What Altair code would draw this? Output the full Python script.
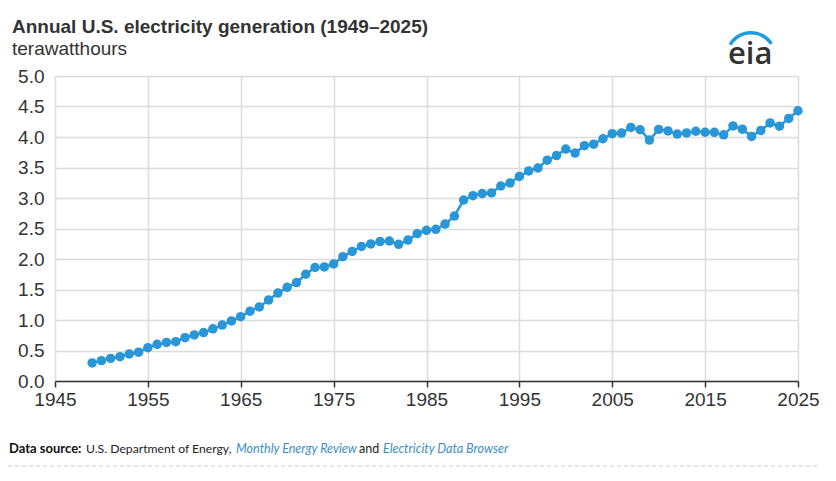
import altair as alt
import pandas as pd

years = list(range(1949, 2026))
generation = [
    0.296, 0.334, 0.371, 0.399, 0.443, 0.472, 0.547, 0.601, 0.632, 0.645,
    0.710, 0.756, 0.794, 0.856, 0.917, 0.984, 1.055, 1.144, 1.214, 1.329,
    1.442, 1.535, 1.613, 1.750, 1.861, 1.870, 1.918, 2.038, 2.124, 2.206,
    2.247, 2.286, 2.295, 2.241, 2.310, 2.416, 2.470, 2.487, 2.572, 2.704,
    2.967, 3.038, 3.073, 3.084, 3.197, 3.247, 3.353, 3.444, 3.492, 3.620,
    3.695, 3.802, 3.737, 3.858, 3.883, 3.971, 4.055, 4.065, 4.157, 4.119,
    3.950, 4.125, 4.100, 4.048, 4.066, 4.094, 4.078, 4.077, 4.035, 4.181,
    4.128, 4.010, 4.108, 4.230, 4.178, 4.305, 4.430,
]

x_ticks = [1945, 1955, 1965, 1975, 1985, 1995, 2005, 2015, 2025]
y_ticks = [0.0, 0.5, 1.0, 1.5, 2.0, 2.5, 3.0, 3.5, 4.0, 4.5, 5.0]

title_text = "Annual U.S. electricity generation (1949–2025)"
subtitle_text = "terawatthours"
logo_text = "eia"
source_parts = ["Data source:", "U.S. Department of Energy,", "Monthly Energy Review",
                "and", "Electricity Data Browser"]

BLUE = "#2996d7"
FONT = "Liberation Sans"

df = pd.DataFrame({"year": years, "value": generation})

base = alt.Chart(df).encode(
    x=alt.X("year:Q",
            scale=alt.Scale(domain=[1945, 2025], nice=False, zero=False),
            axis=alt.Axis(values=x_ticks, format="d", title=None, grid=True,
                          gridColor="#dcdcdc", gridWidth=1.5,
                          domainColor="#333333", domainWidth=1.5,
                          tickColor="#333333", tickWidth=1.5, tickSize=6,
                          labelFontSize=19, labelColor="#333333", labelFont=FONT,
                          labelPadding=3, labelFlush=False)),
    y=alt.Y("value:Q",
            scale=alt.Scale(domain=[0, 5], nice=False),
            axis=alt.Axis(values=y_ticks, format=".1f", title=None, grid=True,
                          gridColor="#dcdcdc", gridWidth=1.5,
                          domain=False, ticks=False,
                          labelFontSize=19, labelColor="#333333", labelFont=FONT,
                          labelPadding=11)),
)

line = base.mark_line(color=BLUE, strokeWidth=2.5)
points = base.mark_circle(color=BLUE, size=90, opacity=1)


def text_layer(txt, x, y, **kw):
    return alt.Chart(pd.DataFrame({"t": [txt]})).mark_text(
        align="left", baseline="alphabetic", **kw
    ).encode(text="t:N", x=alt.value(x), y=alt.value(y))


title = text_layer(title_text, -43, -43, font=FONT, fontSize=19,
                   fontWeight="bold", color="#333333")
subtitle = text_layer(subtitle_text, -43, -21, font=FONT, fontSize=19,
                      color="#333333")

logo = text_layer(logo_text, 673, -12, font="Open Sans", fontSize=31,
                  fontWeight=600, color="#333333")
swoosh = alt.Chart(pd.DataFrame({"a": [0]})).mark_arc(
    color="#1f9be0", theta=5.25, theta2=7.28, radius=26, radius2=22.5
).encode(x=alt.value(696), y=alt.value(-19))

src_x = [-46, 31, 181, 304, 328]
src_styles = [
    dict(fontWeight="bold", color="#111111", fontSize=13),
    dict(color="#222222", fontSize=12.2),
    dict(fontStyle="italic", color="#3a8fc6", fontSize=12.5),
    dict(color="#222222", fontSize=12.5),
    dict(fontStyle="italic", color="#3a8fc6", fontSize=12.5),
]
source_layers = [
    text_layer(t, sx, 377, font="Lato", **st)
    for t, sx, st in zip(source_parts, src_x, src_styles)
]

dash = alt.Chart(pd.DataFrame({"a": [0]})).mark_rule(
    color="#cccccc", strokeDash=[4, 3], strokeWidth=1
).encode(x=alt.value(-47), x2=alt.value(765), y=alt.value(390))

chart = alt.layer(
    line, points, title, subtitle, logo, swoosh, *source_layers, dash
).properties(
    width=743, height=305,
    autosize=alt.AutoSizeParams(type="none"),
    padding={"left": 47, "top": 68, "right": 30, "bottom": 87},
).configure_view(stroke=None).configure(background="white")

chart.save("out.html", embed_options={"renderer": "svg", "actions": False})
